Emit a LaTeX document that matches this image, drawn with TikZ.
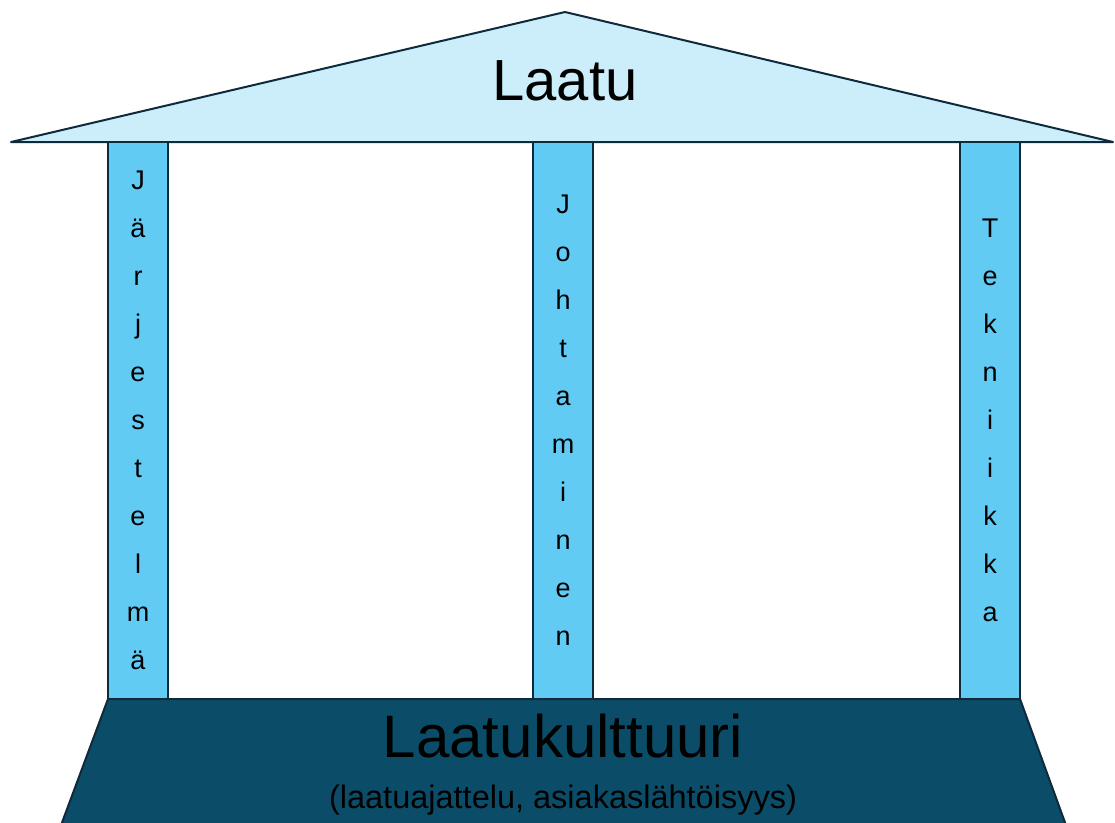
\documentclass[tikz,border=0pt]{standalone}
\usepackage{fontspec}
\setmainfont{Liberation Sans}
\definecolor{roofblue}{HTML}{CCEEFB}
\definecolor{pillarblue}{HTML}{61CBF4}
\definecolor{basedark}{HTML}{0B4D68}
\definecolor{edge}{HTML}{0E2A3B}
\begin{document}
\begin{tikzpicture}[x=1pt, y=-1pt,
    part/.style={draw=edge, line width=2pt, line join=round},
    pillar/.style={part, fill=pillarblue, minimum width=60pt, minimum height=557pt,
                   inner sep=0pt, align=center, font=\fontsize{27}{48}\selectfont},
    big/.style={anchor=base, font=\fontsize{#1}{#1}\selectfont}
]
    \clip (0,0) rectangle (1115,822);

    % roof
    \draw[part, fill=roofblue] (11,142) -- (565,12) -- (1113,142) -- cycle;
    \node[big=58] (laatu) at (565,100) {Laatu};

    % three pillars
    \node[pillar] (jarj) at (138,420.5) {J\\ä\\r\\j\\e\\s\\t\\e\\l\\m\\ä};
    \node[pillar] (joht) at (563,420.5) {J\\o\\h\\t\\a\\m\\i\\n\\e\\n};
    \node[pillar] (tekn) at (990,420.5) {T\\e\\k\\n\\i\\i\\k\\k\\a};

    % foundation
    \draw[part, fill=basedark] (108,699) -- (1020,699) -- (1067,828) -- (60,828) -- cycle;
    \node[big=60] (kulttuuri) at (563,757) {Laatukulttuuri};
    \node[big=32.5] (ajattelu) at (563,808) {(laatuajattelu, asiakaslähtöisyys)};
\end{tikzpicture}
\end{document}
